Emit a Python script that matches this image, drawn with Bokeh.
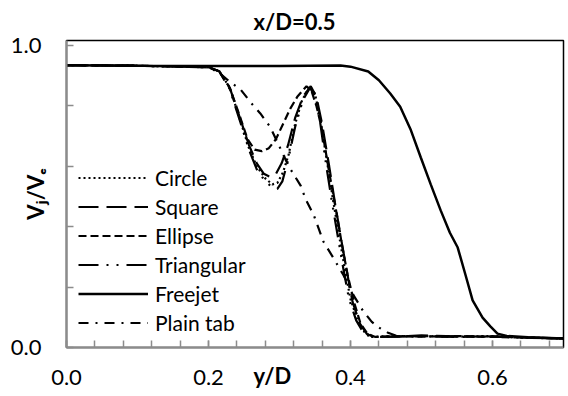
from bokeh.plotting import figure
from bokeh.models import FixedTicker, Legend, LegendItem, LinearAxis
from bokeh.embed import file_html
from bokeh.resources import INLINE

# ---------------- data ----------------
title_text = "x/D=0.5"
x_title = "y/D"
y_title = "V\u2c7c/V\u2091"
x_tick_values = [0.0, 0.2, 0.4, 0.6]
x_tick_labels = ["0.0", "0.2", "0.4", "0.6"]
y_tick_values = [0.0, 1.0]
y_tick_labels = ["0.0", "1.0"]
x_title_pos = 0.29

circle_x = [0.0, 0.1, 0.2, 0.215, 0.23, 0.245, 0.257, 0.268, 0.28, 0.29, 0.297, 0.305, 0.313,
            0.322, 0.332, 0.343, 0.35, 0.358, 0.368, 0.376, 0.384, 0.392, 0.40, 0.41, 0.42,
            0.43, 0.45, 0.5, 0.55, 0.6, 0.65, 0.7]
circle_y = [0.935, 0.933, 0.928, 0.915, 0.86, 0.75, 0.66, 0.60, 0.56, 0.54, 0.545, 0.58, 0.64,
            0.74, 0.82, 0.865, 0.84, 0.75, 0.60, 0.48, 0.37, 0.26, 0.16, 0.09, 0.05,
            0.035, 0.037, 0.038, 0.036, 0.038, 0.032, 0.03]

square_x = [0.0, 0.1, 0.2, 0.215, 0.23, 0.245, 0.257, 0.268, 0.278, 0.287, 0.295, 0.303, 0.312,
            0.322, 0.333, 0.344, 0.352, 0.36, 0.37, 0.378, 0.386, 0.395, 0.403, 0.413, 0.423,
            0.433, 0.46, 0.5, 0.55, 0.6, 0.65, 0.7]
square_y = [0.935, 0.933, 0.928, 0.915, 0.86, 0.755, 0.67, 0.61, 0.575, 0.565, 0.575, 0.61, 0.67,
            0.76, 0.83, 0.865, 0.83, 0.74, 0.60, 0.48, 0.37, 0.25, 0.15, 0.08, 0.045,
            0.035, 0.036, 0.04, 0.037, 0.036, 0.033, 0.03]

ellipse_x = [0.0, 0.1, 0.2, 0.215, 0.23, 0.245, 0.255, 0.265, 0.275, 0.285, 0.295, 0.305, 0.315,
             0.325, 0.338, 0.345, 0.352, 0.36, 0.37, 0.38, 0.388, 0.396, 0.405, 0.414, 0.424,
             0.435, 0.46, 0.5, 0.55, 0.6, 0.65, 0.7]
ellipse_y = [0.935, 0.933, 0.928, 0.915, 0.86, 0.76, 0.69, 0.655, 0.65, 0.66, 0.69, 0.74, 0.79,
             0.83, 0.865, 0.85, 0.80, 0.72, 0.58, 0.45, 0.34, 0.24, 0.15, 0.08, 0.045,
             0.035, 0.037, 0.036, 0.038, 0.035, 0.033, 0.03]

triangular_x = [0.0, 0.1, 0.2, 0.215, 0.23, 0.245, 0.257, 0.268, 0.28, 0.29, 0.297, 0.304, 0.312,
                0.322, 0.333, 0.343, 0.35, 0.357, 0.366, 0.374, 0.382, 0.39, 0.398, 0.408, 0.418,
                0.428, 0.46, 0.5, 0.55, 0.6, 0.65, 0.7]
triangular_y = [0.935, 0.933, 0.928, 0.915, 0.855, 0.745, 0.655, 0.59, 0.55, 0.53, 0.525, 0.55, 0.62,
                0.73, 0.82, 0.86, 0.83, 0.75, 0.60, 0.48, 0.37, 0.26, 0.16, 0.09, 0.05,
                0.035, 0.036, 0.038, 0.035, 0.037, 0.032, 0.03]

freejet_x = [0.0, 0.1, 0.2, 0.3, 0.386, 0.40, 0.425, 0.44, 0.456, 0.47, 0.485, 0.499, 0.513,
             0.527, 0.54, 0.551, 0.562, 0.572, 0.586, 0.597, 0.607, 0.62, 0.65, 0.7]
freejet_y = [0.935, 0.933, 0.932, 0.932, 0.934, 0.93, 0.914, 0.885, 0.841, 0.797, 0.72, 0.629, 0.54,
             0.454, 0.38, 0.331, 0.24, 0.156, 0.099, 0.07, 0.046, 0.038, 0.034, 0.03]

plain_x = [0.0, 0.1, 0.2, 0.215, 0.23, 0.245, 0.26, 0.273, 0.287, 0.30, 0.313, 0.33, 0.337,
           0.348, 0.362, 0.375, 0.39, 0.405, 0.418, 0.43, 0.44, 0.452, 0.465, 0.5, 0.55,
           0.6, 0.65, 0.7]
plain_y = [0.935, 0.933, 0.928, 0.91, 0.88, 0.855, 0.81, 0.775, 0.73, 0.665, 0.60, 0.535, 0.49,
           0.44, 0.35, 0.30, 0.24, 0.17, 0.12, 0.085, 0.066, 0.05, 0.038, 0.037, 0.036,
           0.036, 0.033, 0.03]

x_minor_ticks = [round(0.04 * i, 2) for i in range(0, 18)]
y_minor_ticks = [0.2, 0.4, 0.6, 0.8]

# ---------------- layout ----------------
W, H = 568, 396
L, R, T, B = 66, 563, 40, 347
FONT = "Lato, 'Noto Sans', 'DejaVu Sans'"
AXIS_GRAY = "#8c8c8c"

p = figure(width=W, height=H, x_range=(0.0, 0.7), y_range=(0.0, 1.0 + 5.0 / 302.0),
           output_backend="svg", toolbar_location=None,
           min_border_left=L, min_border_right=W - R,
           min_border_top=T, min_border_bottom=H - B)
p.grid.visible = False
p.outline_line_color = "black"
p.outline_line_width = 1.5
p.background_fill_color = "white"
p.border_fill_color = "white"

# title
p.title.text = title_text
p.title.align = "left"
p.title.offset = 187
p.title.standoff = 10
p.title.vertical_align = "middle"
p.title.text_font = FONT
p.title.text_font_size = "22px"
p.title.text_font_style = "bold"
p.title.text_color = "black"

# x axis
xa = p.xaxis[0]
xa.ticker = FixedTicker(ticks=x_tick_values, minor_ticks=x_minor_ticks)
xa.major_label_overrides = {v: s for v, s in zip(x_tick_values, x_tick_labels)}
xa.axis_line_color = AXIS_GRAY
xa.axis_line_width = 2
xa.major_tick_line_color = AXIS_GRAY
xa.minor_tick_line_color = AXIS_GRAY
xa.major_tick_line_width = 1.5
xa.minor_tick_line_width = 1.5
xa.major_tick_in = 7
xa.major_tick_out = 0
xa.minor_tick_in = 7
xa.minor_tick_out = 0
xa.major_label_standoff = 22
xa.major_label_text_font = FONT
xa.major_label_text_font_size = "22px"
xa.major_label_text_color = "black"

# x title on the same row as the tick labels
xt = LinearAxis(ticker=FixedTicker(ticks=[x_title_pos], minor_ticks=[]),
                major_label_overrides={x_title_pos: x_title})
xt.axis_line_color = None
xt.major_tick_line_color = None
xt.minor_tick_line_color = None
xt.major_tick_in = 0
xt.major_tick_out = 0
xt.major_label_standoff = -26
xt.major_label_text_font = FONT
xt.major_label_text_font_size = "22px"
xt.major_label_text_font_style = "bold"
xt.major_label_text_color = "black"
p.add_layout(xt, "below")

# y axis
ya = p.yaxis[0]
ya.ticker = FixedTicker(ticks=y_tick_values, minor_ticks=y_minor_ticks)
ya.major_label_overrides = {v: s for v, s in zip(y_tick_values, y_tick_labels)}
ya.axis_line_color = AXIS_GRAY
ya.axis_line_width = 2
ya.major_tick_line_color = AXIS_GRAY
ya.minor_tick_line_color = AXIS_GRAY
ya.major_tick_line_width = 1.5
ya.minor_tick_line_width = 1.5
ya.major_tick_in = 7
ya.major_tick_out = 0
ya.minor_tick_in = 7
ya.minor_tick_out = 0
ya.major_label_standoff = 25
ya.major_label_text_font = FONT
ya.major_label_text_font_size = "22px"
ya.major_label_text_color = "black"
ya.axis_label = y_title
ya.axis_label_standoff = -41
ya.axis_label_text_font = FONT
ya.axis_label_text_font_size = "22px"
ya.axis_label_text_font_style = "bold"
ya.axis_label_text_color = "black"

LW = 2.2
r_circle = p.line(circle_x, circle_y, line_color="black", line_width=LW, line_dash="2 3")
r_square = p.line(square_x, square_y, line_color="black", line_width=LW, line_dash="20 8")
r_ellipse = p.line(ellipse_x, ellipse_y, line_color="black", line_width=LW, line_dash="8 4")
r_tri = p.line(triangular_x, triangular_y, line_color="black", line_width=LW,
               line_dash="20 8 2 8 2 8")
r_free = p.line(freejet_x, freejet_y, line_color="black", line_width=2.5)
r_plain = p.line(plain_x, plain_y, line_color="black", line_width=LW, line_dash="10 7 2 7")

legend = Legend(items=[
    LegendItem(label="Circle", renderers=[r_circle]),
    LegendItem(label="Square", renderers=[r_square]),
    LegendItem(label="Ellipse", renderers=[r_ellipse]),
    LegendItem(label="Triangular", renderers=[r_tri]),
    LegendItem(label="Freejet", renderers=[r_free]),
    LegendItem(label="Plain tab", renderers=[r_plain]),
], location=(12, 12), orientation="vertical")
legend.padding = 0
legend.margin = 0
legend.spacing = 4
legend.glyph_width = 70
legend.glyph_height = 25
legend.label_height = 25
legend.label_standoff = 7
legend.label_text_font = FONT
legend.label_text_font_size = "21px"
legend.label_text_color = "black"
legend.border_line_color = None
legend.background_fill_alpha = 0
p.add_layout(legend, "center")

open("out.html", "w").write(file_html(p, INLINE))
